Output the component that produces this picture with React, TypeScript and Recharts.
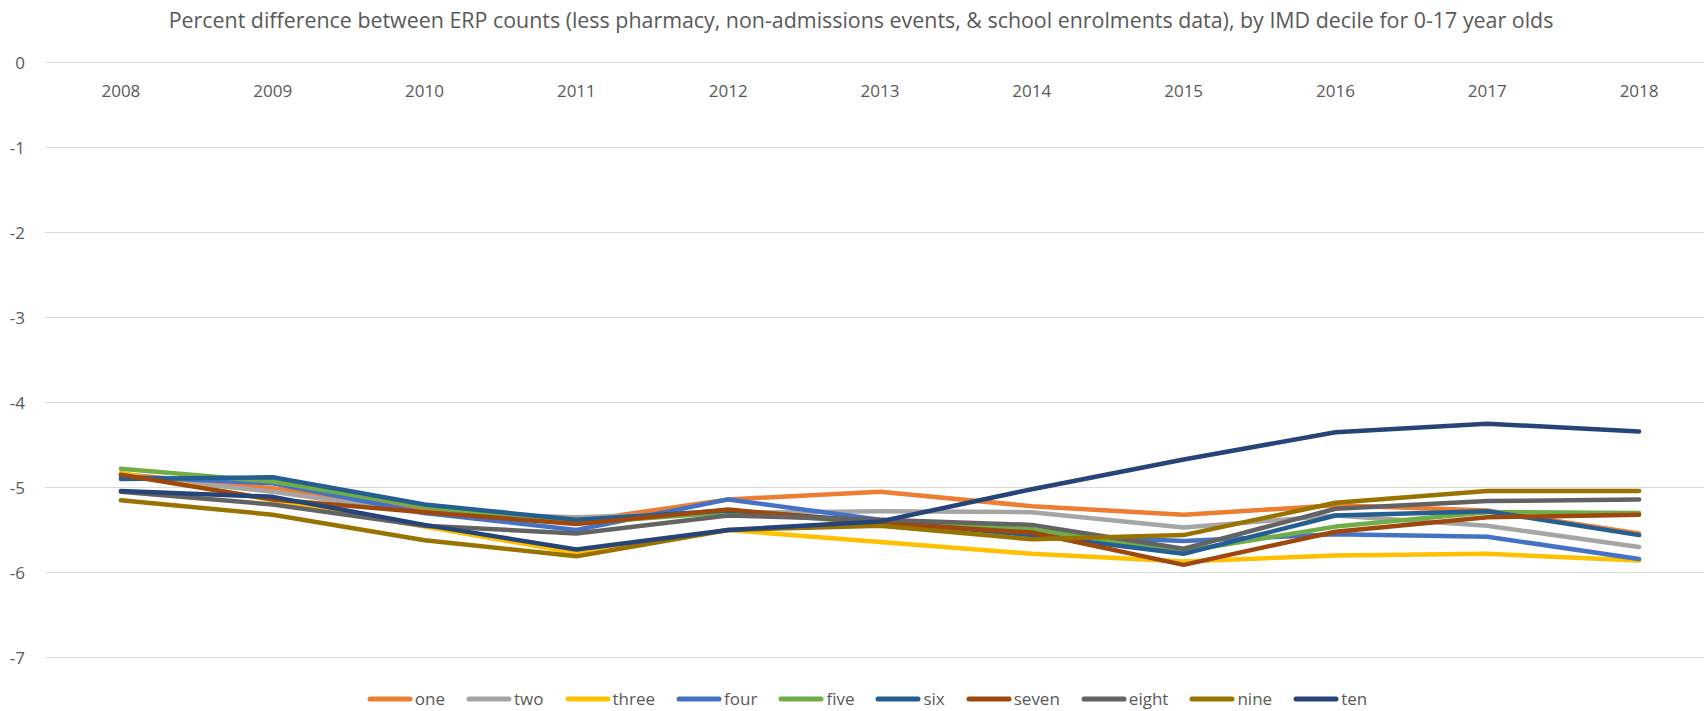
import React from 'react';
import { LineChart, Line, XAxis, YAxis, CartesianGrid } from 'recharts';

// 年份 / categories
const years = ['2008', '2009', '2010', '2011', '2012', '2013', '2014', '2015', '2016', '2017', '2018'];

// values, one list per decile
const one = [-4.84, -5.01, -5.25, -5.4, -5.14, -5.05, -5.22, -5.32, -5.21, -5.27, -5.54];
const two = [-4.86, -5.05, -5.3, -5.35, -5.3, -5.28, -5.29, -5.47, -5.33, -5.45, -5.7];
const three = [-4.83, -5.15, -5.46, -5.77, -5.5, -5.64, -5.78, -5.87, -5.8, -5.78, -5.86];
const four = [-4.87, -4.95, -5.3, -5.5, -5.14, -5.38, -5.56, -5.63, -5.55, -5.58, -5.84];
const five = [-4.78, -4.93, -5.23, -5.42, -5.29, -5.42, -5.49, -5.75, -5.46, -5.29, -5.3];
const six = [-4.9, -4.88, -5.2, -5.38, -5.27, -5.4, -5.56, -5.78, -5.33, -5.28, -5.56];
const seven = [-4.85, -5.14, -5.29, -5.43, -5.26, -5.42, -5.53, -5.91, -5.52, -5.35, -5.32];
const eight = [-5.05, -5.2, -5.45, -5.54, -5.33, -5.38, -5.44, -5.72, -5.25, -5.16, -5.14];
const nine = [-5.15, -5.32, -5.62, -5.81, -5.5, -5.45, -5.61, -5.56, -5.18, -5.04, -5.04];
const ten = [-5.04, -5.11, -5.44, -5.73, -5.5, -5.4, -5.02, -4.67, -4.35, -4.25, -4.34];

const yTicks = [0, -1, -2, -3, -4, -5, -6, -7];

const seriesNames = ['one', 'two', 'three', 'four', 'five', 'six', 'seven', 'eight', 'nine', 'ten'];
const seriesValues = [one, two, three, four, five, six, seven, eight, nine, ten];
const seriesColors = [
  '#ED7D31', '#A5A5A5', '#FFC000', '#4472C4', '#70AD47',
  '#255E91', '#9E480E', '#636363', '#997300', '#264478',
];

const TITLE =
  'Percent difference between ERP counts (less pharmacy, non-admissions events, & school enrolments data), by IMD decile for 0-17 year olds';

const FONT = '"Open Sans", "Noto Sans", sans-serif';
const TEXT_COLOR = '#595959';
const PLOT_TOP = 62.5;
const CHART_W = 1715;
const Y_AXIS_W = 45;
// half a category band, so points sit in the middle of each band (Excel style)
const HALF_BAND = (CHART_W - Y_AXIS_W) / years.length / 2;

const chartData = years.map((year, i) => {
  const row: Record<string, any> = { year };
  seriesNames.forEach((name, s) => {
    row[name] = seriesValues[s][i];
  });
  return row;
});

// x labels sit just under the 0 gridline, like Excel does
const YearTick = (props: any) => {
  const { x, payload } = props;
  return (
    <text
      x={x}
      y={PLOT_TOP + 28}
      textAnchor="middle"
      dominantBaseline="central"
      fill={TEXT_COLOR}
      fontSize={17}
      fontFamily={FONT}
    >
      {payload.value}
    </text>
  );
};

const LegendRow = () => (
  <div
    style={{
      position: 'absolute',
      left: 0,
      top: 686,
      width: 1734,
      display: 'flex',
      justifyContent: 'center',
      alignItems: 'center',
      fontFamily: FONT,
      fontSize: 17,
      color: TEXT_COLOR,
      lineHeight: '26px',
    }}
  >
    {seriesNames.map((name, i) => (
      <div key={name} style={{ display: 'flex', alignItems: 'center', marginRight: i < seriesNames.length - 1 ? 21 : 0 }}>
        <svg width={46} height={10} style={{ display: 'block' }}>
          <line x1={3} y1={5} x2={43} y2={5} stroke={seriesColors[i]} strokeWidth={5} strokeLinecap="round" />
        </svg>
        <span style={{ marginLeft: 2 }}>{name}</span>
      </div>
    ))}
  </div>
);

export default function App() {
  return (
    <div
      style={{
        position: 'fixed',
        left: 0,
        top: 0,
        width: 1704,
        height: 711,
        overflow: 'hidden',
        background: '#fff',
      }}
    >
      <div
        style={{
          position: 'absolute',
          left: 0,
          top: 5,
          width: 1722,
          textAlign: 'center',
          fontFamily: FONT,
          fontSize: 21.4,
          color: TEXT_COLOR,
          whiteSpace: 'nowrap',
        }}
      >
        {TITLE}
      </div>
      <div style={{ position: 'absolute', left: 0, top: 0 }}>
        <LineChart
          width={CHART_W}
          height={711}
          data={chartData}
          margin={{ top: PLOT_TOP - 30, right: 0, left: 0, bottom: 711 - 657.5 }}
        >
          <CartesianGrid vertical={false} stroke="#D9D9D9" strokeWidth={1} />
          <XAxis
            dataKey="year"
            orientation="top"
            height={30}
            axisLine={false}
            tickLine={false}
            tick={<YearTick />}
            interval={0}
            padding={{ left: HALF_BAND, right: HALF_BAND }}
          />
          <YAxis
            width={Y_AXIS_W}
            domain={[-7, 0]}
            ticks={yTicks}
            axisLine={false}
            tickLine={false}
            tickSize={0}
            tickMargin={20}
            tick={{ fill: TEXT_COLOR, fontSize: 17, fontFamily: FONT }}
          />
          {seriesNames.map((name, i) => (
            <Line
              key={name}
              type="linear"
              dataKey={name}
              stroke={seriesColors[i]}
              strokeWidth={4.5}
              strokeLinecap="round"
              strokeLinejoin="round"
              dot={false}
              activeDot={false}
              isAnimationActive={false}
            />
          ))}
        </LineChart>
      </div>
      <LegendRow />
    </div>
  );
}
